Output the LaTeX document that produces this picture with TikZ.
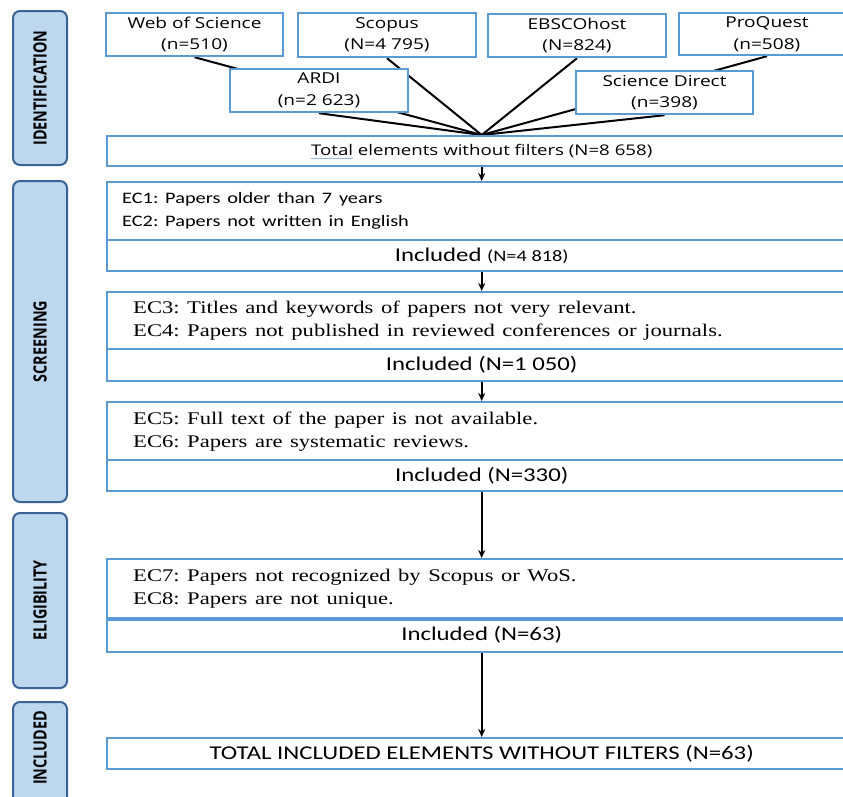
\documentclass[tikz,border=0pt]{standalone}
\usepackage{fontspec}
\usepackage{graphicx}
\setmainfont{Liberation Serif}
\newfontfamily\osans{Open Sans}
\newfontfamily\carl{Carlito}
\usetikzlibrary{arrows.meta,backgrounds}
\definecolor{boxblue}{RGB}{91,155,213}
\definecolor{lblfill}{RGB}{189,215,238}
\definecolor{lbldraw}{RGB}{58,98,150}
\definecolor{ulblue}{RGB}{150,180,230}
\newcommand\hs[1]{\scalebox{1.27}[1]{#1}}
\newcommand\vs[1]{\scalebox{1}[1.27]{#1}}
\newcommand\spellul[1]{\setbox0\hbox{#1}\rlap{\color{ulblue}\rule[-3pt]{\wd0}{0.8pt}}#1}
\frenchspacing
\begin{document}
\begin{tikzpicture}[x=1pt,y=-1pt,
  srcbox/.style={draw=boxblue, line width=2.4pt, fill=white, inner sep=0pt, align=center,
    font=\osans\fontsize{15}{21.5}\selectfont},
  flowbox/.style={draw=boxblue, line width=2.4pt, fill=white, minimum width=749pt, inner sep=0pt, anchor=north west},
  critbox/.style={flowbox, align=left, inner xsep=#1, text width=749pt-2*#1},
  lbl/.style={draw=lbldraw, fill=lblfill, line width=2pt, rounded corners=7pt, minimum width=54pt,
    inner sep=0pt, font=\osans\bfseries\fontsize{14.4}{17}\selectfont},
  link/.style={line width=2pt, black},
  flow/.style={line width=1.8pt, black, -{Stealth[length=8pt,width=7pt]}},
  cfont/.style={font=\carl\fontsize{16}{23}\selectfont},
  tfont/.style={font=\rmfamily\fontsize{17.8}{23}\selectfont},
  ifont/.style={font=\carl\fontsize{19.5}{22}\selectfont}
]
\useasboundingbox (0,0) rectangle (843,796);
\clip (0,0) rectangle (843,796);

% phase labels
\node[lbl, minimum height=154pt] (lid) at (40,88) {\rotatebox{90}{\vs{IDENTIFICATION}}};
\node[lbl, minimum height=321pt] (lsc) at (40,341.5) {\rotatebox{90}{\vs{SCREENING}}};
\node[lbl, minimum height=175pt] (lel) at (40,600.5) {\rotatebox{90}{\vs{ELIGIBILITY}}};
\node[lbl, minimum height=110pt] (lin) at (40,757) {\rotatebox{90}{\hspace{18pt}\vs{INCLUDED}}};

% sources
\node[srcbox, minimum width=177pt, minimum height=43pt] (wos) at (194.5,34.5) {\hs{Web of Science}\\\hs{(n=510)}};
\node[srcbox, minimum width=178pt, minimum height=44pt] (scopus) at (387,35) {\hs{Scopus}\\\hs{(N=4 795)}};
\node[srcbox, minimum width=178pt, minimum height=43pt] (ebsco) at (577,35.5) {\hs{EBSCOhost}\\\hs{(N=824)}};
\node[srcbox, minimum width=176pt, minimum height=42pt] (proquest) at (767,34) {\hs{ProQuest}\\\hs{(n=508)}};
\node[srcbox, minimum width=178pt, minimum height=43pt] (ardi) at (319,90.5) {\hs{ARDI}\\\hs{(n=2 623)}};
\node[srcbox, minimum width=177pt, minimum height=43pt] (scidir) at (664.5,92.5) {\hs{Science Direct}\\\hs{(n=398)}};

\node[flowbox, minimum height=30pt, font=\osans\fontsize{14.7}{18}\selectfont] (total) at (106,135)
  {\hs{\spellul{Total} elements without filters (N=8 658)}};

% screening 1
\node[critbox=15pt, cfont, minimum height=58pt] (c1) at (106,181)
  {\hs{EC1: Papers older than 7 years}\\\hs{EC2: Papers not written in English}};
\node[flowbox, ifont, minimum height=31pt] (i1) at (106,239)
  {\hs{Included {\fontsize{16}{20}\selectfont(N=4 818)}}};

% screening 2
\node[critbox=26pt, tfont, minimum height=57pt] (c2) at (106,291)
  {\hs{EC3: Titles and keywords of papers not very relevant.}\\\hs{EC4: Papers not published in reviewed conferences or journals.}};
\node[flowbox, ifont, minimum height=32pt] (i2) at (106,348) {\hs{Included (N=1 050)}};

% screening 3
\node[critbox=26pt, tfont, minimum height=58pt] (c3) at (106,401)
  {\hs{EC5: Full text of the paper is not available.}\\\hs{EC6: Papers are systematic reviews.}};
\node[flowbox, ifont, minimum height=31pt] (i3) at (106,459) {\hs{Included (N=330)}};

% eligibility
\node[critbox=26pt, tfont, minimum height=59pt] (c4) at (106,558)
  {\hs{EC7: Papers not recognized by Scopus or WoS.}\\\hs{EC8: Papers are not unique.}};
\node[flowbox, ifont, minimum height=34pt] (i4) at (106,617) {\hs{Included (N=63)}};
\draw[boxblue, line width=3.6pt] (c4.south west) -- (c4.south east);

% included
\node[flowbox, ifont, minimum height=31pt] (fin) at (106,737)
  {\hs{TOTAL INCLUDED ELEMENTS WITHOUT FILTERS (N=63)}};

% flow arrows
\draw[flow] (total.south) -- (c1.north);
\draw[flow] (i1.south) -- (c2.north);
\draw[flow] (i2.south) -- (c3.north);
\draw[flow] (i3.south) -- (c4.north);
\draw[flow] (i4.south) -- (fin.north);

% source connectors behind boxes
\begin{scope}[on background layer]
  \foreach \s in {wos,scopus,ebsco,proquest,ardi,scidir}
    \draw[link] (\s.south) -- (total.north);
\end{scope}
\end{tikzpicture}
\end{document}
